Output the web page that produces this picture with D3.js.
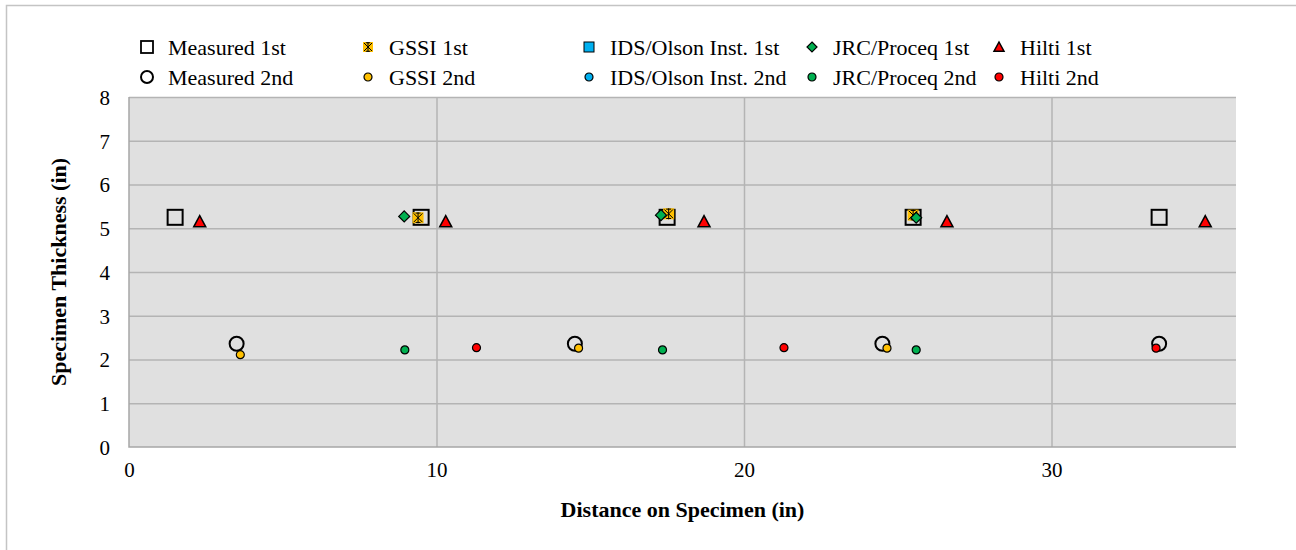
<!DOCTYPE html>
<html><head><meta charset="utf-8">
<script src="https://cdn.jsdelivr.net/npm/d3@7"></script>
<style>body{margin:0;background:#fff}svg{display:block}text{font-family:"Liberation Serif","Times New Roman",serif;fill:#000}</style>
</head><body><svg id="c" width="1296" height="550"></svg>
<script>
const xTicks=[0,10,20,30];
const yTicks=[0,1,2,3,4,5,6,7,8];
const measured1X=[1.5,9.5,17.5,25.5,33.5];
const measured1Y=[5.25,5.25,5.25,5.25,5.25];
const gssi1X=[9.4,17.55,25.5];
const gssi1Y=[5.24,5.33,5.3];
const ids1X=[];
const ids1Y=[];
const jrc1X=[8.95,17.3,25.6];
const jrc1Y=[5.27,5.3,5.24];
const hilti1X=[2.3,10.3,18.7,26.6,35.0];
const hilti1Y=[5.15,5.15,5.15,5.15,5.15];
const measured2X=[3.5,14.5,24.5,33.5];
const measured2Y=[2.36,2.36,2.36,2.36];
const gssi2X=[3.62,14.62,24.65];
const gssi2Y=[2.11,2.26,2.26];
const ids2X=[];
const ids2Y=[];
const jrc2X=[8.97,17.35,25.6];
const jrc2Y=[2.22,2.22,2.22];
const hilti2X=[11.3,21.3,33.4];
const hilti2Y=[2.27,2.27,2.26];
const seriesNames=["Measured 1st","GSSI 1st","IDS/Olson Inst. 1st","JRC/Proceq 1st","Hilti 1st","Measured 2nd","GSSI 2nd","IDS/Olson Inst. 2nd","JRC/Proceq 2nd","Hilti 2nd"];

const ORANGE="#FFC000",BLUE="#00B0F0",GREEN="#00B050",RED="#FF0000";
const series=[
 {name:seriesNames[0],x:measured1X,y:measured1Y,m:"square",fill:"none",stroke:"#000",sw:2,s:15,ls:12},
 {name:seriesNames[1],x:gssi1X,y:gssi1Y,m:"star",fill:ORANGE,stroke:"#000",sw:1,s:11,ls:10},
 {name:seriesNames[2],x:ids1X,y:ids1Y,m:"square",fill:BLUE,stroke:"#000",sw:1,s:10,ls:10},
 {name:seriesNames[3],x:jrc1X,y:jrc1Y,m:"diamond",fill:GREEN,stroke:"#000",sw:1.2,s:11,ls:10},
 {name:seriesNames[4],x:hilti1X,y:hilti1Y,m:"triangle",fill:RED,stroke:"#000",sw:1.5,s:12,ls:10},
 {name:seriesNames[5],x:measured2X,y:measured2Y,m:"circle",fill:"none",stroke:"#000",sw:2,s:14,ls:12},
 {name:seriesNames[6],x:gssi2X,y:gssi2Y,m:"circle",fill:ORANGE,stroke:"#000",sw:1.2,s:8,ls:8},
 {name:seriesNames[7],x:ids2X,y:ids2Y,m:"circle",fill:BLUE,stroke:"#000",sw:1.2,s:8,ls:8},
 {name:seriesNames[8],x:jrc2X,y:jrc2Y,m:"circle",fill:GREEN,stroke:"#000",sw:1.2,s:8,ls:8},
 {name:seriesNames[9],x:hilti2X,y:hilti2Y,m:"circle",fill:RED,stroke:"#000",sw:1.2,s:8,ls:8}
];

const svg=d3.select("#c");
const L=129,R=1236,T=97,B=447;
const x=d3.scaleLinear().domain([0,36]).range([L,R]);
const y=d3.scaleLinear().domain([0,8]).range([B,T]);
const SERIF='Liberation Serif';

// outer frame
svg.append("rect").attr("x",6.5).attr("y",5.5).attr("width",1300).attr("height",560)
  .attr("fill","none").attr("stroke","#c4c4c4").attr("stroke-width",1.5);
// plot background
svg.append("rect").attr("x",L).attr("y",T).attr("width",R-L).attr("height",B-T).attr("fill","#E0E0E0");

// grid
const gy=svg.append("g").attr("transform",`translate(${L},0)`)
 .call(d3.axisLeft(y).tickValues(yTicks.filter(v=>v>0)).tickSize(-(R-L)).tickFormat(""));
gy.select(".domain").remove();
gy.selectAll(".tick line").attr("stroke","#B4B4B4").attr("stroke-width",1.5);
const gx=svg.append("g").attr("transform",`translate(0,${B})`)
 .call(d3.axisBottom(x).tickValues(xTicks.filter(v=>v>0)).tickSize(-(B-T)).tickFormat(""));
gx.select(".domain").remove();
gx.selectAll(".tick line").attr("stroke","#B4B4B4").attr("stroke-width",1.5);
// plot border left & bottom
svg.append("path").attr("d",`M${L},${T}V${B}H${R}`).attr("fill","none").attr("stroke","#A6A6A6").attr("stroke-width",1.5);

// tick labels
const ay=svg.append("g").attr("transform",`translate(${L-19},0)`)
 .call(d3.axisLeft(y).tickValues(yTicks).tickSize(0).tickPadding(0));
ay.attr("font-family",SERIF).attr("font-size",21);
ay.select(".domain").remove();
ay.selectAll("text").attr("font-family",SERIF).style("font-family",SERIF).style("font-size","21px").attr("dy","0.35em");
const ax=svg.append("g").attr("transform",`translate(0,${B+15})`)
 .call(d3.axisBottom(x).tickValues(xTicks).tickSize(0).tickPadding(0));
ax.attr("font-family",SERIF).attr("font-size",21);
ax.select(".domain").remove();
ax.selectAll("text").attr("font-family",SERIF).style("font-family",SERIF).style("font-size","21px").attr("dy","0.71em");

// axis titles
svg.append("text").attr("x",(L+R)/2).attr("y",517).attr("text-anchor","middle")
 .style("font-size","22px").attr("font-weight","bold").text("Distance on Specimen (in)");
svg.append("text").attr("transform",`translate(66,${(T+B)/2}) rotate(-90)`).attr("text-anchor","middle")
 .style("font-size","22px").attr("font-weight","bold").text("Specimen Thickness (in)");

function drawMarker(g,m,s,fill,stroke,sw){
  if(m==="square"){
    g.append("rect").attr("x",-s/2).attr("y",-s/2).attr("width",s).attr("height",s)
     .attr("fill",fill).attr("stroke",stroke).attr("stroke-width",sw);
  }else if(m==="circle"){
    g.append("circle").attr("r",s/2).attr("fill",fill).attr("stroke",stroke).attr("stroke-width",sw);
  }else if(m==="diamond"){
    const h=s/2;
    g.append("path").attr("d",`M0,${-h}L${h},0L0,${h}L${-h},0Z`).attr("fill",fill).attr("stroke",stroke).attr("stroke-width",sw);
  }else if(m==="triangle"){
    const h=s/2;
    g.append("path").attr("d",`M0,${-h}L${h},${h*0.85}L${-h},${h*0.85}Z`).attr("fill",fill).attr("stroke",stroke).attr("stroke-width",sw).attr("stroke-linejoin","miter");
  }else if(m==="star"){
    const h=s/2;
    g.append("rect").attr("x",-h).attr("y",-h).attr("width",s).attr("height",s).attr("fill",fill);
    const c=h*0.45;
    g.append("path").attr("d",`M${-h*0.8},${-h*0.8}L${h*0.8},${h*0.8}M${h*0.8},${-h*0.8}L${-h*0.8},${h*0.8}M0,${-h}V${h}M${-c},${-h*0.85}H${c}M${-c},${h*0.85}H${c}`)
     .attr("stroke",stroke).attr("stroke-width",sw).attr("fill","none");
  }
}

// points
const pts=svg.append("g");
series.forEach(sr=>{
  sr.x.forEach((xv,i)=>{
    const g=pts.append("g").attr("transform",`translate(${x(xv)},${y(sr.y[i])})`);
    drawMarker(g,sr.m,sr.s,sr.fill,sr.stroke,sr.sw);
  });
});

// legend
const legX=[147,368,589,812,999];
const legY=[47,77];
const leg=svg.append("g");
series.forEach((sr,i)=>{
  const col=i%5,row=Math.floor(i/5);
  const g=leg.append("g").attr("transform",`translate(${legX[col]},${legY[row]})`);
  drawMarker(g,sr.m,sr.ls,sr.fill,sr.stroke,sr.m==="square"&&sr.fill==="none"?1.8:sr.sw);
  g.append("text").attr("x",21).attr("y",0).attr("dy","0.35em").style("font-size","22px").text(sr.name);
});
</script></body></html>
